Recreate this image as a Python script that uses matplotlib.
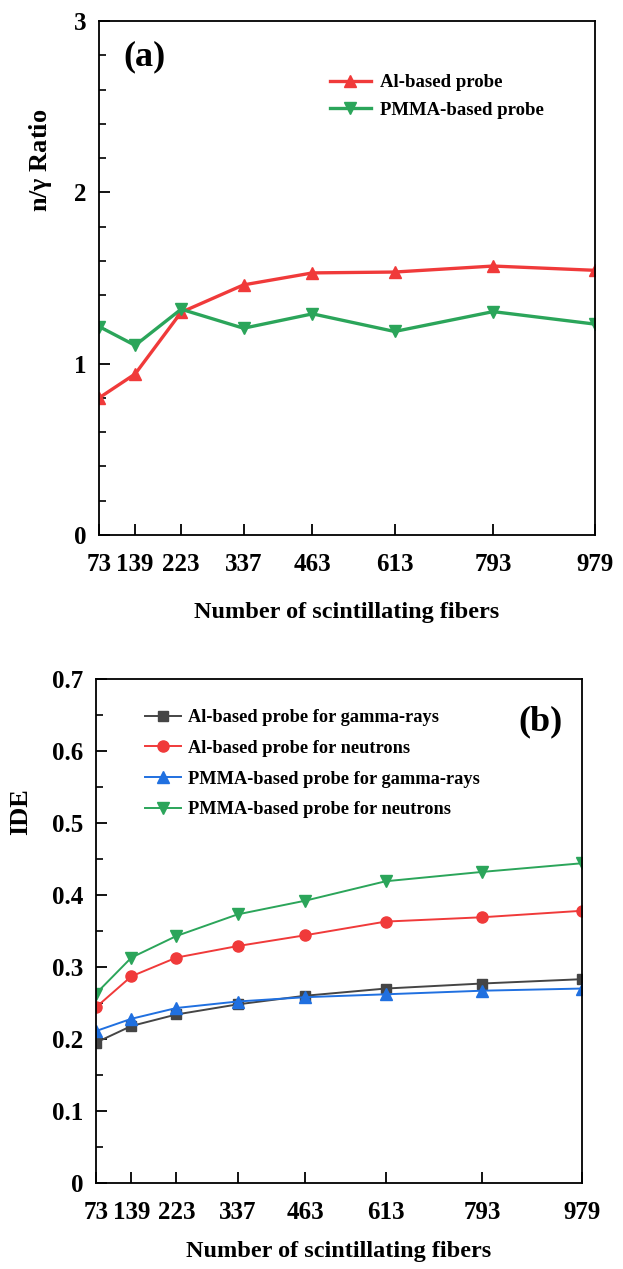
import matplotlib
matplotlib.use("Agg")
import matplotlib.pyplot as plt
from matplotlib.ticker import MultipleLocator

plt.rcParams['font.family'] = ['Liberation Serif', 'DejaVu Serif']
plt.rcParams['font.weight'] = 'bold'
plt.rcParams['mathtext.default'] = 'regular'

fibers = [73, 139, 223, 337, 463, 613, 793, 979]

# (a) n/gamma ratio
ratio_al = [0.80, 0.94, 1.30, 1.46, 1.53, 1.535, 1.57, 1.545]
ratio_pmma = [1.217, 1.107, 1.318, 1.207, 1.291, 1.188, 1.304, 1.231]

# (b) IDE
ide_al_gamma = [0.195, 0.218, 0.234, 0.248, 0.260, 0.270, 0.277, 0.283]
ide_al_neutron = [0.244, 0.287, 0.313, 0.329, 0.344, 0.363, 0.369, 0.378]
ide_pmma_gamma = [0.211, 0.228, 0.243, 0.252, 0.258, 0.262, 0.267, 0.270]
ide_pmma_neutron = [0.263, 0.313, 0.343, 0.373, 0.392, 0.419, 0.432, 0.444]

RED = '#F03A3A'
GREEN = '#2BA55A'
GRAY = '#454545'
BLUE = '#2070E0'

fig = plt.figure(figsize=(6.23, 12.69), dpi=100)
ax1 = fig.add_axes([0.1589, 0.5784, 0.7961, 0.4050])
ax2 = fig.add_axes([0.1541, 0.0678, 0.7801, 0.3972])


def style_axis(ax, xpad):
    ax.set_xlim(73, 979)
    ax.set_xticks(fibers)
    ax.set_xticklabels([str(f) for f in fibers])
    for s in ax.spines.values():
        s.set_linewidth(1.3)
    ax.tick_params(axis='both', which='major', direction='in', length=8, width=1.3,
                   labelsize=18, top=False, right=False)
    ax.tick_params(axis='x', which='major', pad=13)
    ax.tick_params(axis='y', which='major', pad=9)
    ax.tick_params(axis='y', which='minor', direction='in', length=5, width=1.2, right=False)
    ax.tick_params(axis='x', which='minor', bottom=False, top=False)
    ax.set_xlabel('Number of scintillating fibers', fontsize=17.5, fontweight='bold',
                  labelpad=xpad)


# ---- (a)
ax1.plot(fibers, ratio_al, color=RED, lw=2.4, marker='^', ms=8, label='Al-based probe')
ax1.plot(fibers, ratio_pmma, color=GREEN, lw=2.4, marker='v', ms=8, label='PMMA-based probe')
style_axis(ax1, 19)
ax1.set_ylim(0, 3)
ax1.yaxis.set_major_locator(MultipleLocator(1))
ax1.yaxis.set_minor_locator(MultipleLocator(0.2))
ax1.set_ylabel(r'n/$\gamma$ Ratio', fontsize=19, fontweight='bold')
ax1.yaxis.set_label_coords(-0.091, 0.73)
ax1.text(0.05, 0.93, '(a)', transform=ax1.transAxes, fontsize=26, fontweight='bold',
         ha='left', va='center')
ax1.legend(loc='upper left', bbox_to_anchor=(0.465, 0.897), frameon=False, fontsize=13.5,
           handlelength=2.2, handletextpad=0.5, labelspacing=0.55, borderpad=0,
           borderaxespad=0)

# ---- (b)
ax2.plot(fibers, ide_al_gamma, color=GRAY, lw=1.4, marker='s', ms=7,
         label='Al-based probe for gamma-rays')
ax2.plot(fibers, ide_al_neutron, color=RED, lw=1.4, marker='o', ms=8,
         label='Al-based probe for neutrons')
ax2.plot(fibers, ide_pmma_gamma, color=BLUE, lw=1.4, marker='^', ms=8,
         label='PMMA-based probe for gamma-rays')
ax2.plot(fibers, ide_pmma_neutron, color=GREEN, lw=1.4, marker='v', ms=8,
         label='PMMA-based probe for neutrons')
style_axis(ax2, 12)
ax2.set_ylim(0, 0.7)
ax2.yaxis.set_major_locator(MultipleLocator(0.1))
ax2.yaxis.set_minor_locator(MultipleLocator(0.05))
ax2.yaxis.set_major_formatter(lambda v, p: '0' if abs(v) < 1e-9 else f'{v:.1f}')
ax2.set_ylabel('IDE', fontsize=19, fontweight='bold')
ax2.yaxis.set_label_coords(-0.132, 0.736)
ax2.text(0.914, 0.915, '(b)', transform=ax2.transAxes, fontsize=26, fontweight='bold',
         ha='center', va='center')
ax2.legend(loc='upper left', bbox_to_anchor=(0.10, 0.94), frameon=False, fontsize=13.2,
           handlelength=2.0, handletextpad=0.35, labelspacing=0.75, borderpad=0,
           borderaxespad=0)

fig.savefig('out.png', dpi=100, facecolor='white')
